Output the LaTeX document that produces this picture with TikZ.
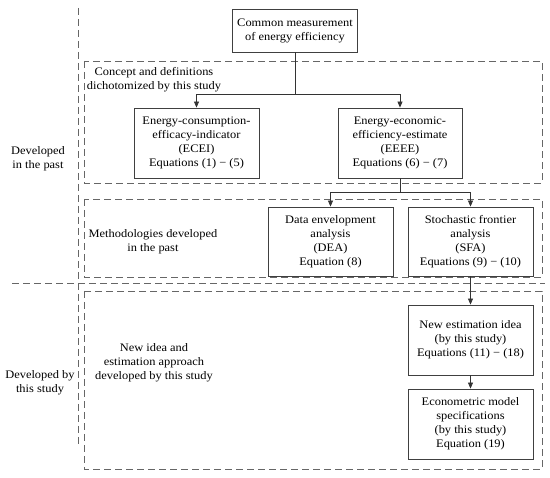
\documentclass[tikz,border=0pt]{standalone}
\usepackage{fontspec}
\setmainfont[FakeStretch=1.08]{Liberation Serif}
\usetikzlibrary{arrows.meta}
\begin{document}
\begin{tikzpicture}[x=1pt,y=-1pt,
  every node/.style={font=\fontsize{11.5}{14}\selectfont, text=black},
  box/.style={draw=black!75, line width=0.8pt, fill=white, align=center, inner sep=2pt, minimum width=125pt},
  frame/.style={draw=black!60, line width=0.8pt, dash pattern=on 7pt off 4pt},
  lbl/.style={align=center, inner sep=0pt},
  conn/.style={draw=black!80, line width=0.8pt},
  arr/.style={conn, -{Triangle[length=6pt,width=5pt]}}]
\useasboundingbox (0,0) rectangle (550,478);
% frames
\draw[frame] (78,8) -- (78,445);
\draw[frame] (12,283) -- (545,283);
\draw[frame] (84,61) rectangle (542,183);
\draw[frame] (84,199) rectangle (542,277);
\draw[frame] (84,291) rectangle (542,469);
% labels
\node[lbl] (past) at (38,159) {Developed\\in the past};
\node[lbl] (study) at (40,383) {Developed by\\this study};
\node[lbl] (concept) at (154,80) {Concept and definitions\\dichotomized by this study};
\node[lbl] (meth) at (153,242) {Methodologies developed\\in the past};
\node[lbl] (newidea) at (154,363) {New idea and\\estimation approach\\developed by this study};
% boxes
\node[box, minimum height=43pt] (top) at (295,30.5) {Common measurement\\of energy efficiency};
\node[box, minimum height=70pt] (ecei) at (196.5,143) {Energy-consumption-\\efficacy-indicator\\(ECEI)\\Equations (1) − (5)};
\node[box, minimum height=70pt, minimum width=124pt] (eeee) at (400,143) {Energy-economic-\\efficiency-estimate\\(EEEE)\\Equations (6) − (7)};
\node[box, minimum height=69pt] (dea) at (330.5,241.5) {Data envelopment\\analysis\\(DEA)\\Equation (8)};
\node[box, minimum height=69pt] (sfa) at (470.5,241.5) {Stochastic frontier\\analysis\\(SFA)\\Equations (9) − (10)};
\node[box, minimum height=70pt] (newest) at (470.5,340) {New estimation idea\\(by this study)\\Equations (11) − (18)};
\node[box, minimum height=70pt] (econ) at (470.5,424) {Econometric model\\specifications\\(by this study)\\Equation (19)};
% connectors
\coordinate (j1) at (295,94);
\coordinate (j2) at (400,192);
\draw[conn] (top.south) -- (j1);
\draw[arr] (j1) -| (ecei.north);
\draw[arr] (j1) -| (eeee.north);
\draw[conn] (eeee.south) -- (j2);
\draw[arr] (j2) -| (dea.north);
\draw[arr] (j2) -| (sfa.north);
\draw[arr] (sfa.south) -- (newest.north);
\draw[arr] (newest.south) -- (econ.north);
\end{tikzpicture}
\end{document}
